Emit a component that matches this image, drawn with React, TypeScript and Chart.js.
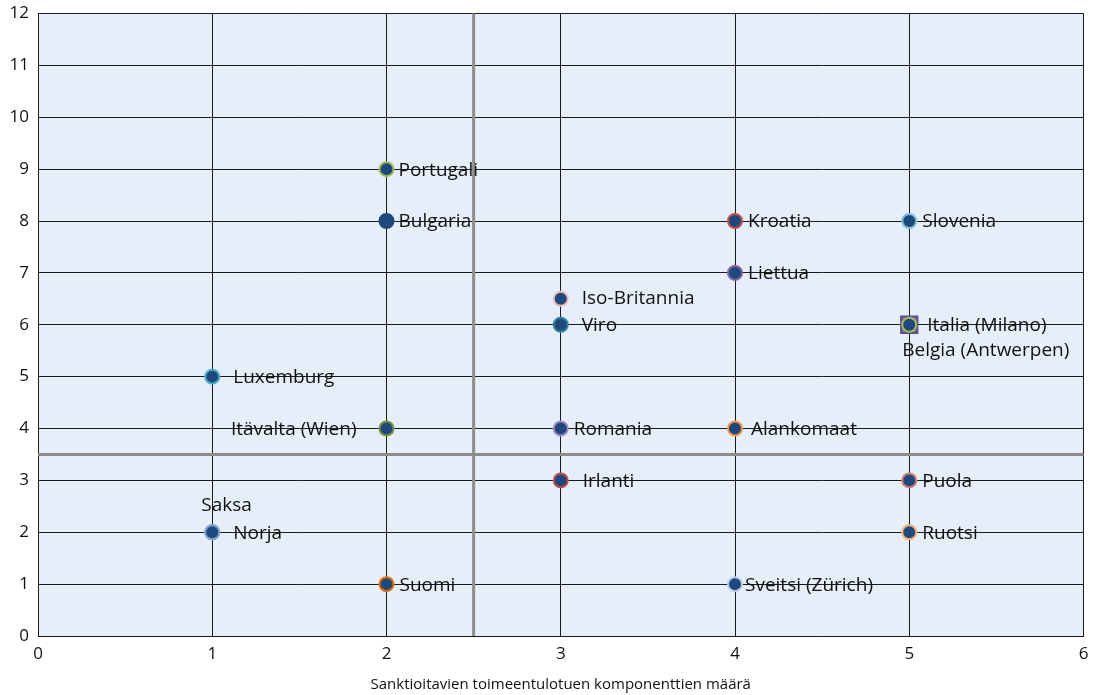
import React, { useEffect, useRef } from "react";
import { Chart, registerables } from "chart.js";

Chart.register(...registerables);

// ---- data ----
const countries = [
  "Saksa", "Norja", "Belgia (Antwerpen)", "Italia (Milano)", "Portugali", "Bulgaria", "Kroatia", "Slovenia",
  "Liettua", "Iso-Britannia", "Viro", "Luxemburg", "Itävalta (Wien)", "Romania",
  "Alankomaat", "Irlanti", "Puola", "Ruotsi", "Suomi", "Sveitsi (Zürich)",
];
const xValues = [1, 1, 5, 5, 2, 2, 4, 5, 4, 3, 3, 1, 2, 3, 4, 3, 5, 5, 2, 4];
const yValues = [2, 2, 6, 6, 9, 8, 8, 8, 7, 6.5, 6, 5, 4, 4, 4, 3, 3, 2, 1, 1];
const xTicks = [0, 1, 2, 3, 4, 5, 6];
const yTicks = [0, 1, 2, 3, 4, 5, 6, 7, 8, 9, 10, 11, 12];
const xTitle = "Sanktioitavien toimeentulotuen komponenttien määrä";
const xDivider = 2.5;
const yDivider = 3.5;

// ---- styles ----
const markerFill = "#1F497D";
const borderColors = [
  "#95B3D7", "#7FA0CF", "#5F4B8B", "#9BBB59", "#9BBB59", "#1F497D", "#C0504D", "#7CC3DA",
  "#8064A2", "#E6B9B8", "#31859C", "#4BACC6", "#77933C", "#9F8CC0",
  "#F79646", "#C0504D", "#D07C7A", "#FAB27A", "#E46C0A", "#B9CDE5",
];
const pointStyles = countries.map((c) => (c.startsWith("Belgia") ? "rect" : "circle"));
const pointFills = countries.map((c) => (c.startsWith("Belgia") ? "#7E6B9E" : markerFill));
// label placement: [dx, dy, align]
const labelPlacement: Record<string, [number, number, CanvasTextAlign]> = {
  "Saksa": [-11, -27, "left"],
  "Norja": [21, 1, "left"],
  "Belgia (Antwerpen)": [-7, 26, "left"],
  "Italia (Milano)": [18, 1, "left"],
  "Portugali": [12, 1, "left"],
  "Bulgaria": [12, 1, "left"],
  "Kroatia": [13, 1, "left"],
  "Slovenia": [13, 1, "left"],
  "Liettua": [13, 1, "left"],
  "Iso-Britannia": [21, 0, "left"],
  "Viro": [21, 1, "left"],
  "Luxemburg": [21, 1, "left"],
  "Itävalta (Wien)": [-30, 1, "right"],
  "Romania": [13, 1, "left"],
  "Alankomaat": [16, 1, "left"],
  "Irlanti": [22, 1, "left"],
  "Puola": [13, 1, "left"],
  "Ruotsi": [13, 1, "left"],
  "Suomi": [13, 1, "left"],
  "Sveitsi (Zürich)": [10, 1, "left"],
};

const FONT = "'Open Sans', 'Noto Sans', sans-serif";

const bgPlugin = {
  id: "bgPlugin",
  beforeDraw(chart: any) {
    const { ctx, chartArea: a } = chart;
    ctx.save();
    ctx.fillStyle = "#E6EEF9";
    ctx.fillRect(a.left, a.top, a.right - a.left, a.bottom - a.top);
    ctx.restore();
  },
  beforeDatasetsDraw(chart: any) {
    const { ctx, chartArea: a, scales } = chart;
    ctx.save();
    ctx.strokeStyle = "#8C8C8C";
    ctx.lineWidth = 3;
    const px = scales.x.getPixelForValue(xDivider);
    const py = scales.y.getPixelForValue(yDivider);
    ctx.beginPath();
    ctx.moveTo(px, a.top);
    ctx.lineTo(px, a.bottom);
    ctx.moveTo(a.left, py);
    ctx.lineTo(a.right, py);
    ctx.stroke();
    ctx.restore();
  },
  afterDatasetsDraw(chart: any) {
    const { ctx, scales } = chart;
    ctx.save();
    ctx.font = `19px ${FONT}`;
    ctx.fillStyle = "#111";
    ctx.textBaseline = "middle";
    countries.forEach((name, i) => {
      const [dx, dy, align] = labelPlacement[name];
      const px = scales.x.getPixelForValue(xValues[i]);
      const py = scales.y.getPixelForValue(yValues[i]);
      ctx.textAlign = align;
      ctx.fillText(name, px + dx, py + dy);
    });
    ctx.restore();
  },
};

export default function App() {
  const ref = useRef<HTMLCanvasElement>(null);
  useEffect(() => {
    if (!ref.current) return;
    const chart = new Chart(ref.current, {
      type: "scatter",
      data: {
        datasets: [
          {
            data: countries.map((_, i) => ({ x: xValues[i], y: yValues[i] })),
            pointStyle: pointStyles as any,
            pointRadius: countries.map((c) => (c.startsWith("Belgia") ? 11.5 : 7)),
            pointBackgroundColor: pointFills,
            pointBorderColor: borderColors,
            pointBorderWidth: 2,
          },
        ],
      },
      options: {
        animation: false,
        responsive: false,
        maintainAspectRatio: false,
        layout: { padding: { left: 0, right: 12, top: 10, bottom: 0 } },
        plugins: { legend: { display: false }, tooltip: { enabled: false } },
        scales: {
          x: {
            type: "linear",
            min: 0,
            max: 6,
            afterFit: (s: any) => { s.height = 59; s.paddingLeft = 0; s.paddingRight = 0; },
            afterBuildTicks: (s: any) => { s.ticks = xTicks.map((v) => ({ value: v })); },
            grid: { color: "#1a1a1a", lineWidth: 1, drawTicks: false },
            border: { color: "#1a1a1a", width: 1 },
            ticks: { color: "#111", font: { family: FONT, size: 17 }, padding: 8 },
            title: {
              display: true,
              text: xTitle,
              color: "#111",
              font: { family: FONT, size: 15 },
              padding: { top: 4, bottom: 1 },
            },
          },
          y: {
            type: "linear",
            min: 0,
            max: 12,
            afterFit: (s: any) => { s.width = 38; s.paddingTop = 0; s.paddingBottom = 0; },
            afterBuildTicks: (s: any) => { s.ticks = yTicks.map((v) => ({ value: v })); },
            grid: { color: "#1a1a1a", lineWidth: 1, drawTicks: false },
            border: { color: "#1a1a1a", width: 1 },
            ticks: { color: "#111", font: { family: FONT, size: 17 }, padding: 9 },
          },
        },
      },
      plugins: [bgPlugin],
    });
    return () => chart.destroy();
  }, []);
  return (
    <div style={{ position: "fixed", left: 0, top: 0, width: 1097, height: 695, background: "#fff" }}>
      <canvas ref={ref} width={1097} height={695} style={{ width: 1097, height: 695 }} />
    </div>
  );
}
